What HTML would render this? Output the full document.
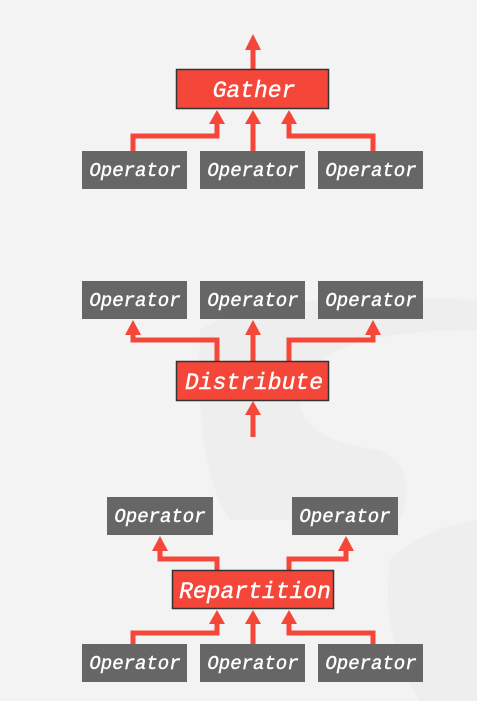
<!DOCTYPE html>
<html><head><style>
html,body{margin:0;padding:0;background:#f3f3f3;}
svg{display:block;}
text{font-family:"Liberation Mono","DejaVu Sans Mono",monospace;font-style:italic;fill:#fff;font-size:19px;text-anchor:middle;stroke:#fff;stroke-width:0.4px;}
text.big{font-size:23px;}
</style></head><body>
<svg width="477" height="701" viewBox="0 0 477 701" xmlns="http://www.w3.org/2000/svg">
<rect width="477" height="701" fill="#f3f3f3"/>
<path d="M200 330 Q260 290 477 300 L477 330 Q300 330 300 400 Q300 440 380 450 Q420 470 400 520 L230 520 Q195 470 200 330Z" fill="#eeeeee"/>
<path d="M390 560 Q420 530 477 520 L477 701 L420 701 Q380 640 390 560Z" fill="#eeeeee"/>
<g stroke="#f4473a" stroke-width="5" fill="none">
<path d="M253 69 V48"/>
<path d="M133 151 V136 H217 V122"/>
<path d="M253 151 V122"/>
<path d="M373 151 V136 H289 V122"/>
<path d="M217 361 V340 H133 V333"/>
<path d="M253 361 V333"/>
<path d="M289 361 V340 H373 V333"/>
<path d="M253 437 V413"/>
<path d="M217 570 V559 H160 V549"/>
<path d="M289 570 V559 H346 V549"/>
<path d="M133 644 V633 H217 V622"/>
<path d="M253 644 V622"/>
<path d="M373 644 V633 H289 V622"/>
</g>
<g fill="#f4473a">
<path d="M245 50 L253 34 L261 50Z"/>
<path d="M209 124 L217 110 L225 124Z"/>
<path d="M245 124 L253 110 L261 124Z"/>
<path d="M281 124 L289 110 L297 124Z"/>
<path d="M125 335 L133 320 L141 335Z"/>
<path d="M245 335 L253 320 L261 335Z"/>
<path d="M365 335 L373 320 L381 335Z"/>
<path d="M245 415 L253 401 L261 415Z"/>
<path d="M152 551 L160 536 L168 551Z"/>
<path d="M338 551 L346 536 L354 551Z"/>
<path d="M209 624 L217 610 L225 624Z"/>
<path d="M245 624 L253 610 L261 624Z"/>
<path d="M281 624 L289 610 L297 624Z"/>
</g>
<g fill="#f4473a" stroke="#333" stroke-width="1.5">
<rect x="176.5" y="69.5" width="152" height="39"/>
<rect x="176.5" y="361.5" width="152" height="39"/>
<rect x="172.5" y="570.5" width="161" height="38"/>
</g>
<text class="big" x="254" y="97">Gather</text>
<text class="big" x="254" y="389">Distribute</text>
<text class="big" x="255" y="598">Repartition</text>
<g fill="#666">
<rect x="82" y="151" width="105" height="38"/><rect x="200" y="151" width="105" height="38"/><rect x="318" y="151" width="105" height="38"/>
<rect x="82" y="281" width="105" height="38"/><rect x="200" y="281" width="105" height="38"/><rect x="318" y="281" width="105" height="38"/>
<rect x="107" y="497" width="106" height="38"/><rect x="292" y="497" width="106" height="38"/>
<rect x="82" y="644" width="105" height="38"/><rect x="200" y="644" width="105" height="38"/><rect x="318" y="644" width="105" height="38"/>
</g>
<text x="135" y="176">Operator</text><text x="253" y="176">Operator</text><text x="371" y="176">Operator</text>
<text x="135" y="306">Operator</text><text x="253" y="306">Operator</text><text x="371" y="306">Operator</text>
<text x="160" y="522">Operator</text><text x="345" y="522">Operator</text>
<text x="135" y="669">Operator</text><text x="253" y="669">Operator</text><text x="371" y="669">Operator</text>
</svg>
</body></html>
